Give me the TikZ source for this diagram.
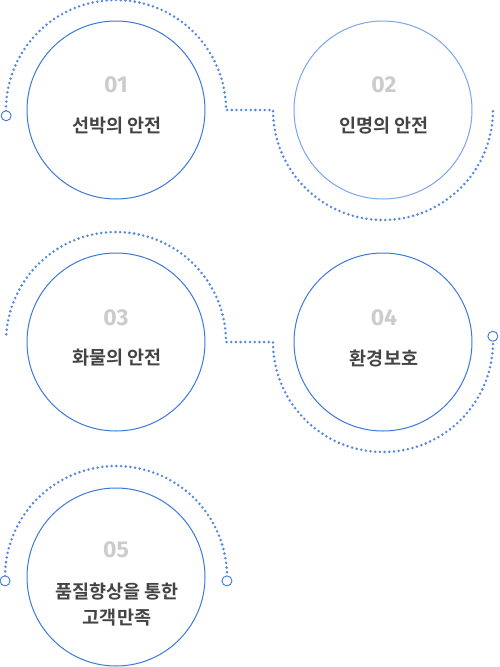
\documentclass[tikz,border=0pt]{standalone}
\usepackage{fontspec}
\usepackage{xcolor}
\usetikzlibrary{positioning, calc}
\newfontfamily\krfont{Noto Sans CJK KR}[BoldFont={* Bold}]
\newfontfamily\numfont{Fira Sans}
\definecolor{ringblue}{HTML}{3B78DC}
\definecolor{ringpale}{HTML}{7AA5E8}
\definecolor{dotblue}{HTML}{5488DE}
\definecolor{numgray}{HTML}{CCCCCC}
\definecolor{txtgray}{HTML}{444444}

\begin{document}
\begin{tikzpicture}[x=1pt, y=1pt,
    ring/.style={circle, draw=ringblue, line width=1pt, minimum size=178pt, inner sep=0pt},
    num/.style={font=\numfont\bfseries\fontsize{23}{23}\selectfont, text=numgray},
    ttl/.style={font=\krfont\bfseries\fontsize{18.5}{26}\selectfont, text=txtgray, align=center},
    dots/.style={dotblue, line width=2.8pt, line cap=round, dash pattern=on 0pt off 4.7pt},
    endmark/.style={circle, draw=ringblue, fill=white, line width=0.9pt, minimum size=10pt, inner sep=0pt}]
    \useasboundingbox (0,0) rectangle (500,-667);

    % rings
    \node[ring] (c1) at (116,-110) {};
    \node[ring, draw=ringpale] (c2) at (383,-110) {};
    \node[ring] (c3) at (116,-342) {};
    \node[ring] (c4) at (383,-342) {};
    \node[ring] (c5) at (116,-577) {};

    % labels
    \node[num] (n1) at (116,-85) {01};
    \node[ttl] (t1) at (117,-126) {선박의 안전};
    \node[num] (n2) at (384,-85) {02};
    \node[ttl] (t2) at (384,-126) {인명의 안전};
    \node[num] (n3) at (116,-318) {03};
    \node[ttl] (t3) at (117,-358) {화물의 안전};
    \node[num] (n4) at (384,-318) {04};
    \node[ttl] (t4) at (384,-358) {환경보호};
    \node[num] (n5) at (116,-550) {05};
    \node[ttl] (t5) at (117,-605) {품질향상을 통한\\고객만족};

    % dotted paths, row 1
    \path (c1.center) ++(183:110) coordinate (s1);
    \path (c2.center) ++(180:110) coordinate (m1);
    \draw[dots] (s1) arc[start angle=183, end angle=0, radius=110] -- (m1)
        arc[start angle=180, end angle=360, radius=110] coordinate (e1);
    \node[endmark] at (s1) {};

    % row 2
    \path (c3.center) ++(176:110) coordinate (s2);
    \path (c4.center) ++(180:110) coordinate (m2);
    \draw[dots] (s2) arc[start angle=176, end angle=0, radius=110] -- (m2)
        arc[start angle=180, end angle=363, radius=110] coordinate (e2);
    \node[endmark] at (e2) {};

    % row 3
    \path (c5.center) ++(182:111) coordinate (s3);
    \draw[dots] (s3) arc[start angle=182, end angle=-2, radius=111] coordinate (e3);
    \node[endmark] at (s3) {};
    \node[endmark] at (e3) {};
\end{tikzpicture}
\end{document}
